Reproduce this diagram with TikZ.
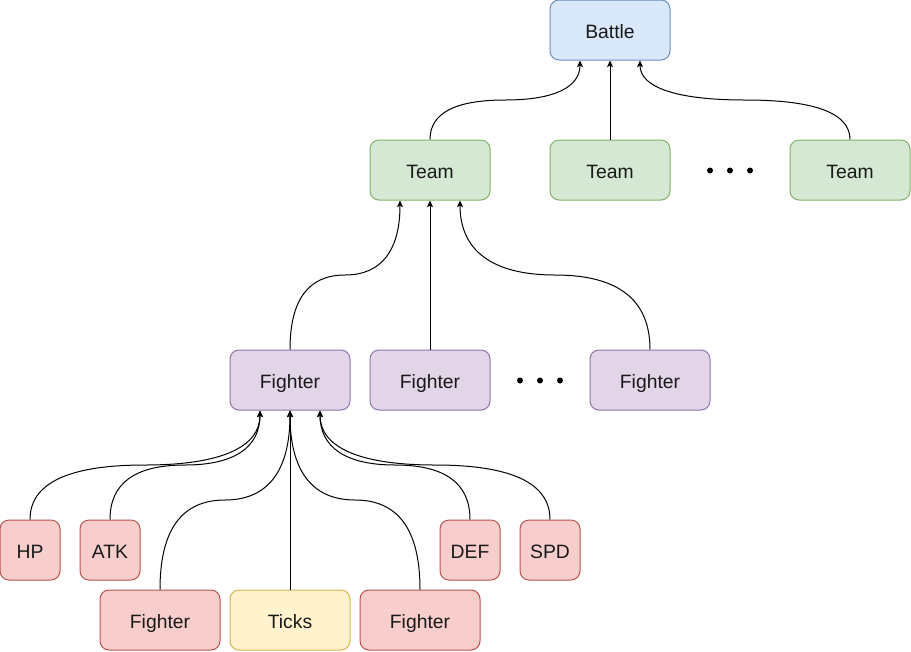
\documentclass[tikz,border=0pt]{standalone}
\usepackage{fontspec}
\setmainfont{Liberation Sans}
\usetikzlibrary{arrows.meta,calc}
\definecolor{blueF}{HTML}{DAE8FC}\definecolor{blueS}{HTML}{6C8EBF}
\definecolor{greenF}{HTML}{D5E8D4}\definecolor{greenS}{HTML}{82B366}
\definecolor{purpF}{HTML}{E1D5E7}\definecolor{purpS}{HTML}{9673A6}
\definecolor{redF}{HTML}{F8CECC}\definecolor{redS}{HTML}{B85450}
\definecolor{yelF}{HTML}{FFF2CC}\definecolor{yelS}{HTML}{D6B656}
\newcommand{\curvedconn}[2]{%
  \coordinate (cS) at (#1);
  \coordinate (cT) at (#2);
  \coordinate (cM) at ($(cS)!0.5!(cT)$);
  \coordinate (cA) at (cS|-cM);
  \coordinate (cB) at (cT|-cM);
  \draw[conn] (cS) .. controls ($(cS)!0.6667!(cA)$) and ($(cM)!0.6667!(cA)$) .. (cM)
    .. controls ($(cM)!0.6667!(cB)$) and ($(cT)!0.6667!(cB)$) .. (cT);}
\begin{document}
\begin{tikzpicture}[x=0.75pt,y=-0.75pt,
  box/.style={draw, rounded corners=6.75pt, line width=0.75pt, font=\fontsize{14.5pt}{17pt}\selectfont,
    minimum height=45pt, inner sep=0pt, text=black!90, text height=12.6pt, text depth=0pt},
  wide/.style={box, minimum width=90pt},
  narrow/.style={box, minimum width=45pt},
  blue/.style={fill=blueF, draw=blueS},
  green/.style={fill=greenF, draw=greenS},
  purp/.style={fill=purpF, draw=purpS},
  red/.style={fill=redF, draw=redS},
  yel/.style={fill=yelF, draw=yelS},
  conn/.style={line width=0.75pt, -{Stealth[length=5pt,width=4.5pt,inset=1.2pt]}},
  dot/.style={fill=black, draw=none, circle, minimum size=4.5pt, inner sep=0pt}]
\useasboundingbox (0,0) rectangle (911,651);
% nodes
\node[wide,blue] (battle) at (610,30) {Battle};
\node[wide,green] (t1) at (430,170) {Team};
\node[wide,green] (t2) at (610,170) {Team};
\node[wide,green] (t3) at (850,170) {Team};
\node[dot] (d1a) at (710,170.5) {};
\node[dot] (d1b) at (730,170.5) {};
\node[dot] (d1c) at (750,170.5) {};
\node[wide,purp] (f1) at (290,380) {Fighter};
\node[wide,purp] (f2) at (430,380) {Fighter};
\node[wide,purp] (f3) at (650,380) {Fighter};
\node[dot] (d2a) at (520,380.5) {};
\node[dot] (d2b) at (540,380.5) {};
\node[dot] (d2c) at (560,380.5) {};
\node[narrow,red] (hp) at (30,550) {HP};
\node[narrow,red] (atk) at (110,550) {ATK};
\node[narrow,red] (def) at (470,550) {DEF};
\node[narrow,red] (spd) at (550,550) {SPD};
\node[wide,red] (rf1) at (160,620) {Fighter};
\node[wide,yel] (ticks) at (290,620) {Ticks};
\node[wide,red] (rf2) at (420,620) {Fighter};
% connectors: teams -> battle
\curvedconn{t1.north}{$(battle.south)+(-30,0)$}
\draw[conn] (t2.north) -- (battle.south);
\curvedconn{t3.north}{$(battle.south)+(30,0)$}
% fighters -> team
\curvedconn{f1.north}{$(t1.south)+(-30,0)$}
\draw[conn] (f2.north) -- (t1.south);
\curvedconn{f3.north}{$(t1.south)+(30,0)$}
% attributes -> fighter
\curvedconn{hp.north}{$(f1.south)+(-30,0)$}
\curvedconn{atk.north}{$(f1.south)+(-30,0)$}
\curvedconn{rf1.north}{f1.south}
\draw[conn] (ticks.north) -- (f1.south);
\curvedconn{rf2.north}{f1.south}
\curvedconn{def.north}{$(f1.south)+(30,0)$}
\curvedconn{spd.north}{$(f1.south)+(30,0)$}
\end{tikzpicture}
\end{document}
